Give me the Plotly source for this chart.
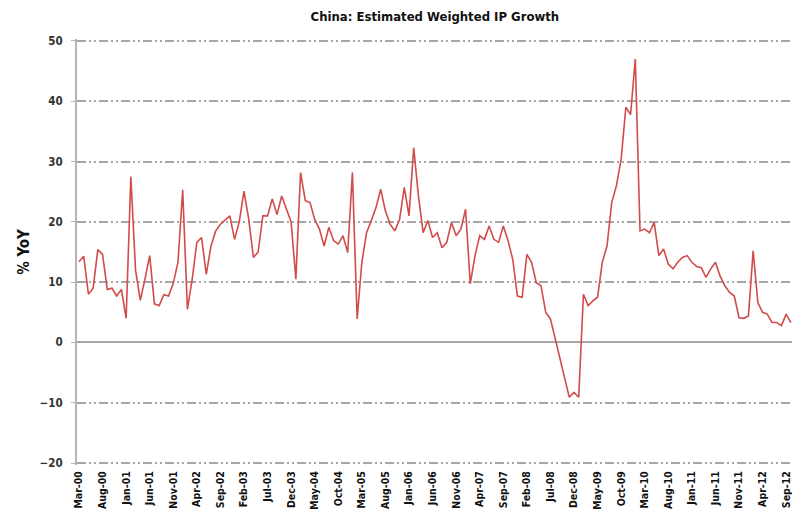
import plotly.graph_objects as go

# Monthly index, Mar-00 .. Oct-12
ip_growth = [
    13.4, 14.3, 8.0, 9.0, 15.4, 14.6, 8.8, 9.0, 7.7, 8.8,
    4.0, 27.5, 12.0, 7.0, 10.5, 14.4, 6.4, 6.1, 7.9, 7.7,
    9.8, 13.3, 25.3, 5.5, 10.4, 16.6, 17.4, 11.3, 16.0, 18.5,
    19.6, 20.3, 21.0, 17.1, 20.0, 25.1, 20.5, 14.1, 15.0, 21.0,
    21.0, 23.8, 21.2, 24.3, 22.1, 20.0, 10.5, 28.2, 23.5, 23.2,
    20.4, 18.8, 16.0, 19.1, 16.9, 16.3, 17.7, 14.9, 28.2, 3.9,
    13.3, 18.2, 20.2, 22.4, 25.4, 21.8, 19.6, 18.5, 20.4, 25.7,
    21.0, 32.3, 24.3, 18.2, 20.2, 17.4, 18.2, 15.7, 16.6, 19.9,
    17.7, 18.8, 22.1, 9.7, 14.4, 17.7, 17.1, 19.3, 17.1, 16.6,
    19.3, 16.9, 13.8, 7.7, 7.5, 14.6, 13.3, 9.9, 9.4, 5.0,
    3.9, 0.6, -2.8, -6.1, -9.1, -8.3, -9.1, 8.0, 6.1, 6.9,
    7.5, 13.3, 16.0, 23.2, 26.0, 30.4, 39.0, 37.8, 47.0, 18.5,
    18.8, 18.2, 19.9, 14.4, 15.5, 13.0, 12.2, 13.3, 14.1, 14.4,
    13.3, 12.6, 12.4, 10.8, 12.2, 13.3, 11.0, 9.4, 8.3, 7.7,
    4.1, 4.0, 4.4, 15.2, 6.6, 5.0, 4.7, 3.3, 3.3, 2.8,
    4.7, 3.3,
]
month_index = list(range(len(ip_growth)))

tick_labels = [
    "Mar-00", "Aug-00", "Jan-01", "Jun-01", "Nov-01", "Apr-02", "Sep-02",
    "Feb-03", "Jul-03", "Dec-03", "May-04", "Oct-04", "Mar-05", "Aug-05",
    "Jan-06", "Jun-06", "Nov-06", "Apr-07", "Sep-07", "Feb-08", "Jul-08",
    "Dec-08", "May-09", "Oct-09", "Mar-10", "Aug-10", "Jan-11", "Jun-11",
    "Nov-11", "Apr-12", "Sep-12",
]
tick_positions = list(range(0, 5 * len(tick_labels), 5))
y_ticks = [-20, -10, 0, 10, 20, 30, 40, 50]

font_family = "DejaVu Sans Condensed, Liberation Sans Narrow, Liberation Sans, Arial, sans-serif"

fig = go.Figure()
fig.add_trace(go.Scatter(
    x=month_index, y=ip_growth, mode="lines",
    line=dict(color="#d24b4b", width=1.6),
    hoverinfo="skip", showlegend=False, cliponaxis=False,
))

# page body adds an 8px offset, so the figure is 8px smaller than the window
fig.update_layout(
    width=792, height=516,
    margin=dict(l=69, r=3, t=31, b=59),
    paper_bgcolor="white", plot_bgcolor="white",
    title=dict(text="<b>China: Estimated Weighted IP Growth</b>",
               x=0.539, xanchor="center", y=0.983, yanchor="middle",
               font=dict(family=font_family, size=13, color="#111")),
    font=dict(family=font_family),
)

fig.update_xaxes(
    range=[-0.42, 152.3],
    tickmode="array", tickvals=tick_positions, ticktext=tick_labels,
    tickangle=-90, tickfont=dict(size=10.5, color="#111", family=font_family, weight="bold"),
    showgrid=False, zeroline=False, showline=False, ticks="",
    automargin=False, ticklabeloverflow="allow", ticklabelstandoff=3,
)

fig.update_yaxes(
    range=[-20.33, 50.33],
    tickmode="array", tickvals=y_ticks,
    tickfont=dict(size=11.5, color="#333", family=font_family, weight="bold"),
    showgrid=True, gridcolor="#a6a6a6", gridwidth=1.5,
    griddash="9px,3px,2px,3px,2px,3px",
    zeroline=True, zerolinecolor="#a6a6a6", zerolinewidth=2,
    showline=True, linecolor="#b5b5b5", linewidth=2,
    ticks="outside", ticklen=4, tickcolor="#b5b5b5",
    ticklabelstandoff=6, automargin=False,
    title=dict(text="<b>% YoY</b>", font=dict(size=15, color="#111", family=font_family),
               standoff=6),
)

fig.write_html("out.html")
